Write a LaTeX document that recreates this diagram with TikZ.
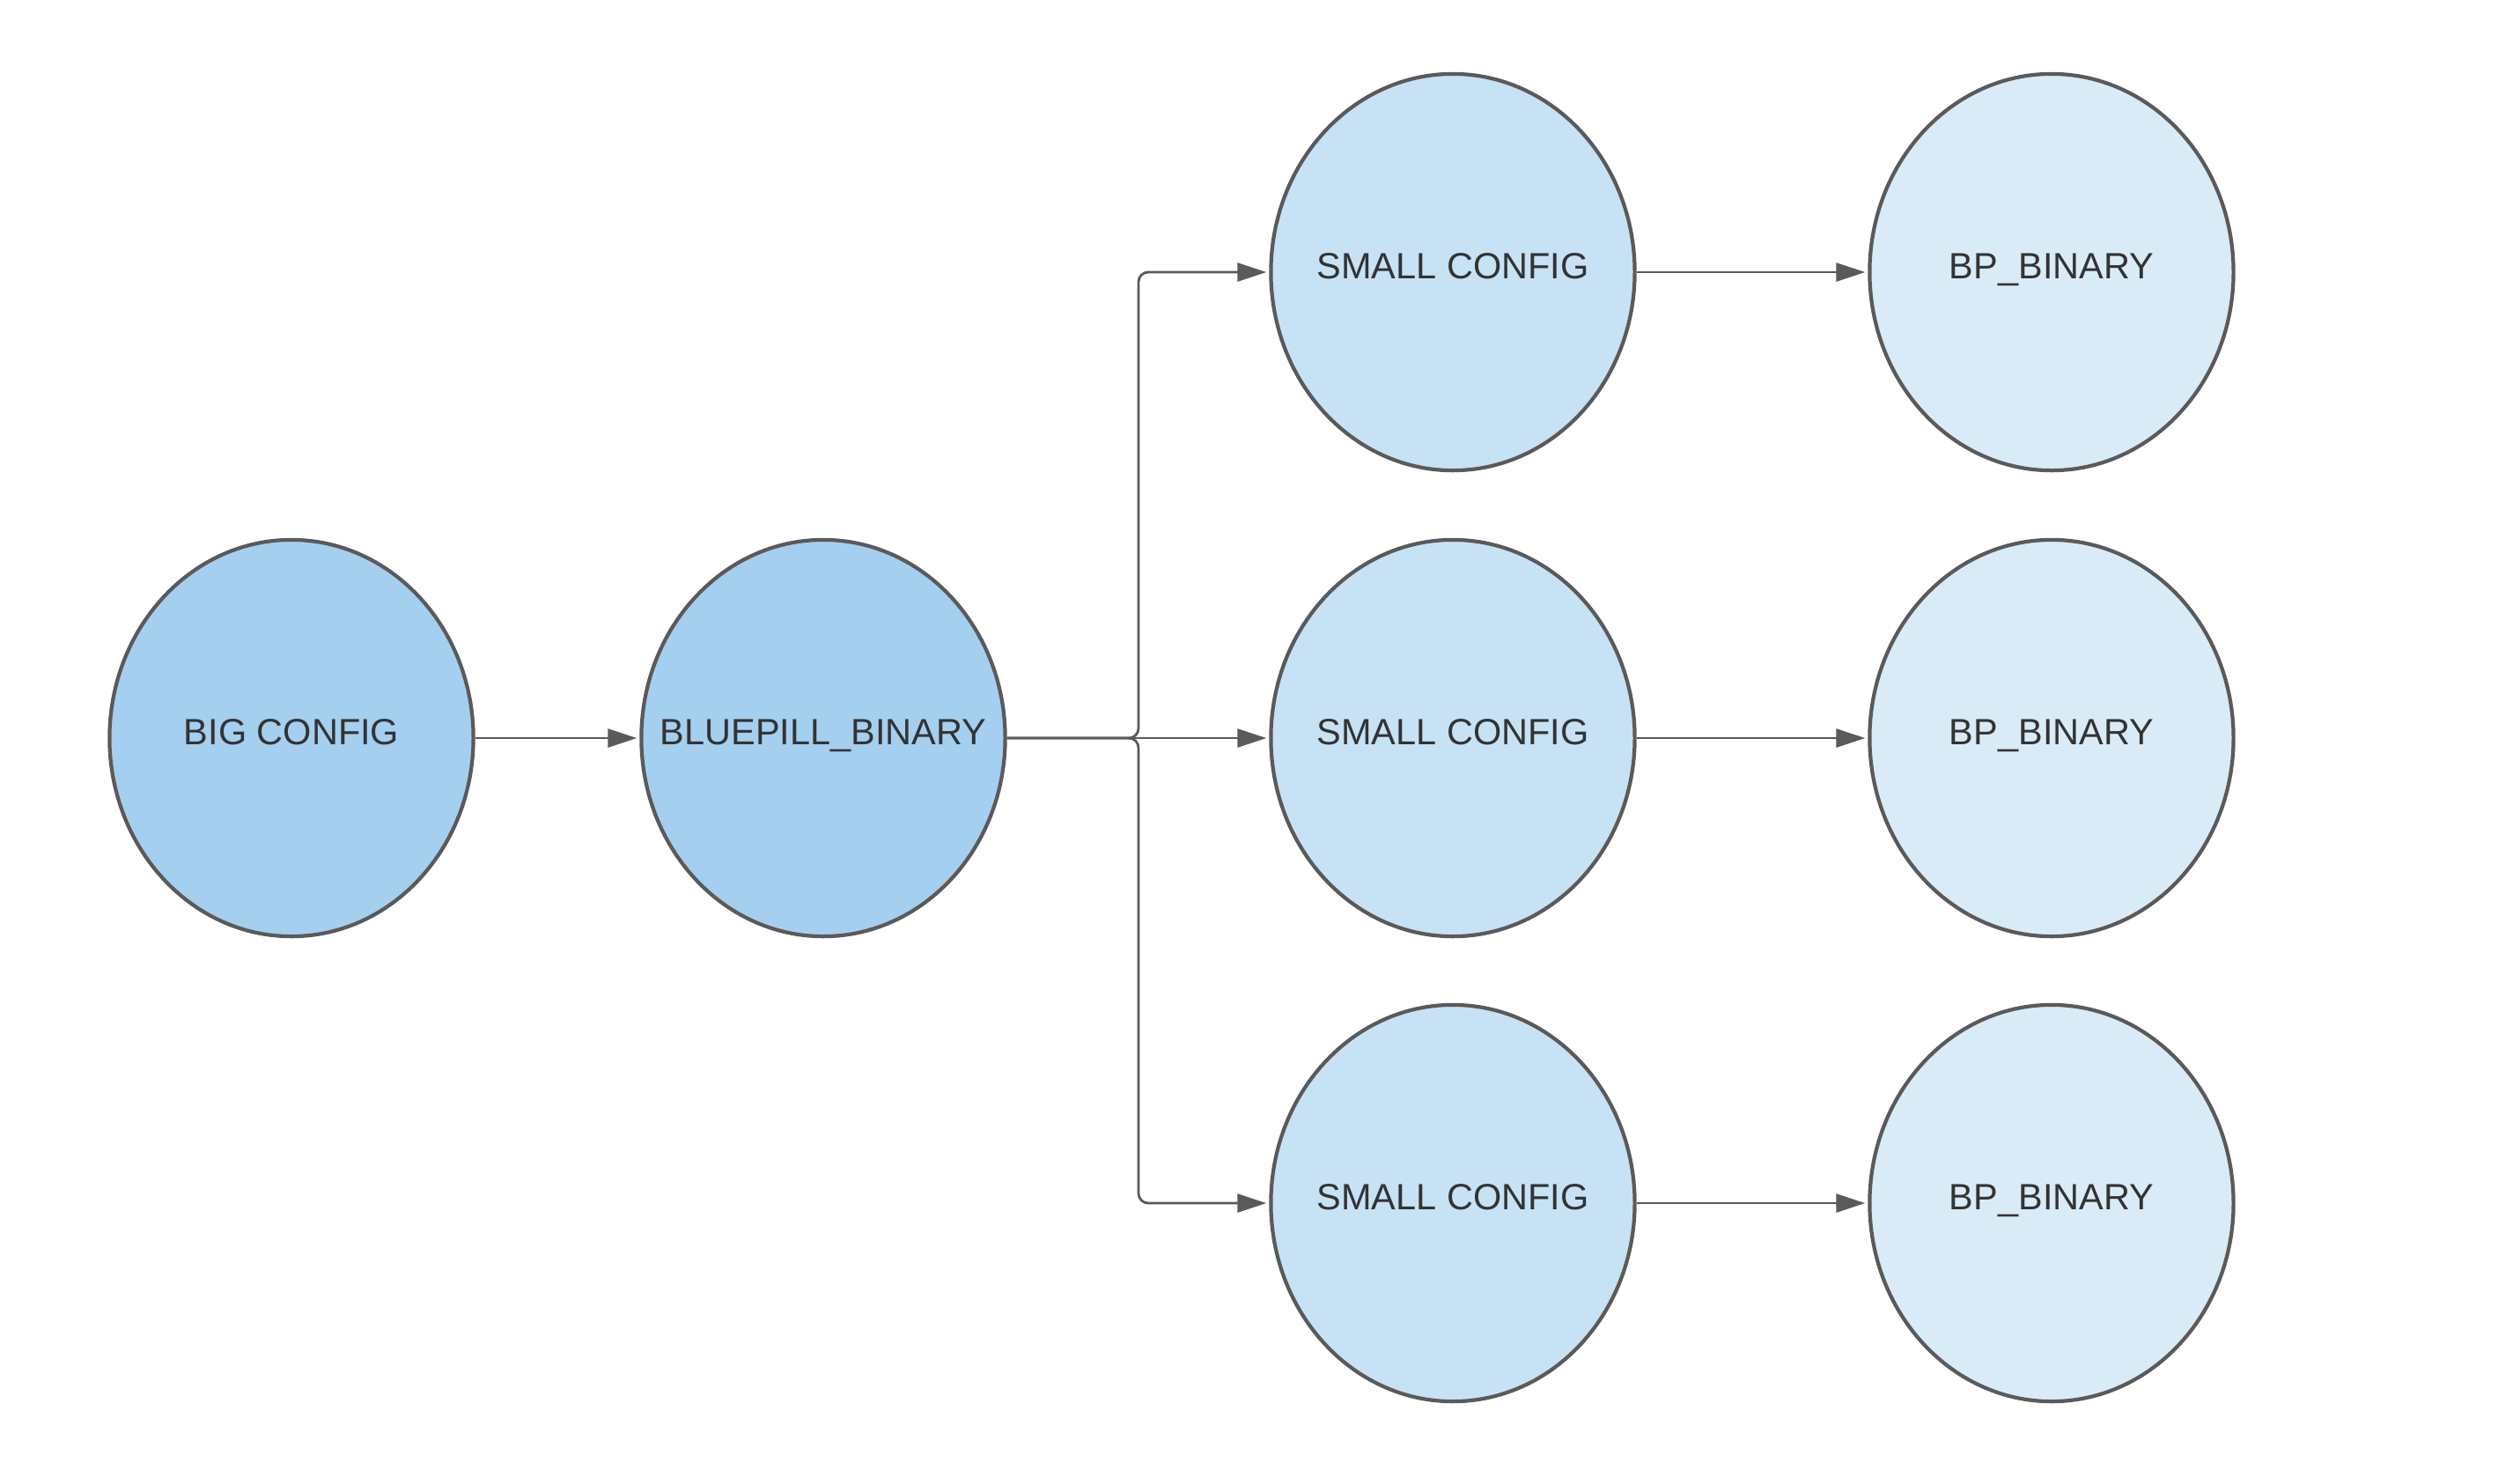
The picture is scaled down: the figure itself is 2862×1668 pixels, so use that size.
\documentclass[tikz,border=0pt]{standalone}
\usepackage{fontspec}
\setmainfont{Liberation Sans}
\usetikzlibrary{shapes.geometric,arrows.meta}
\definecolor{linegray}{HTML}{5A5A5A}
\definecolor{txtgray}{HTML}{333333}
\definecolor{filldark}{HTML}{A5CFEF}
\definecolor{fillmid}{HTML}{C7E2F5}
\definecolor{filllight}{HTML}{DAEBF8}
\tikzset{
  blob/.style={ellipse, draw=linegray, line width=1.2pt, minimum width=4.13cm, minimum height=4.50cm,
    inner sep=0pt},
  blobtext/.style={text=txtgray, font=\fontsize{11.8pt}{14pt}\selectfont,
    text height=0.72em, text depth=0.3em, inner sep=0pt},
  conn/.style={draw=linegray, line width=0.8pt, -{Triangle[length=0.33cm,width=0.21cm]}, shorten >=0.03cm},
}
\begin{document}
\begin{tikzpicture}[x=0.01cm, y=-0.01cm]
\useasboundingbox (0,0) rectangle (2862,1668);
\node[blob, fill=filldark, label={[blobtext]center:BIG CONFIG}] (big) at (331,838) {};
\node[blob, fill=filldark, label={[blobtext]center:BLUEPILL\_BINARY}] (blue) at (935,838) {};
\node[blob, fill=fillmid, label={[blobtext]center:SMALL CONFIG}] (s1) at (1650,309) {};
\node[blob, fill=fillmid, label={[blobtext]center:SMALL CONFIG}] (s2) at (1650,838) {};
\node[blob, fill=fillmid, label={[blobtext]center:SMALL CONFIG}] (s3) at (1650,1366) {};
\node[blob, fill=filllight, label={[blobtext]center:BP\_BINARY}] (b1) at (2330,309) {};
\node[blob, fill=filllight, label={[blobtext]center:BP\_BINARY}] (b2) at (2330,838) {};
\node[blob, fill=filllight, label={[blobtext]center:BP\_BINARY}] (b3) at (2330,1366) {};
\coordinate (j) at (1293,838);
\draw[conn] (big) -- (blue);
\draw[conn, rounded corners=0.11cm] (blue) -- (j) |- (s1);
\draw[conn] (blue) -- (s2);
\draw[conn, rounded corners=0.11cm] (blue) -- (j) |- (s3);
\draw[conn] (s1) -- (b1);
\draw[conn] (s2) -- (b2);
\draw[conn] (s3) -- (b3);
\end{tikzpicture}
\end{document}
